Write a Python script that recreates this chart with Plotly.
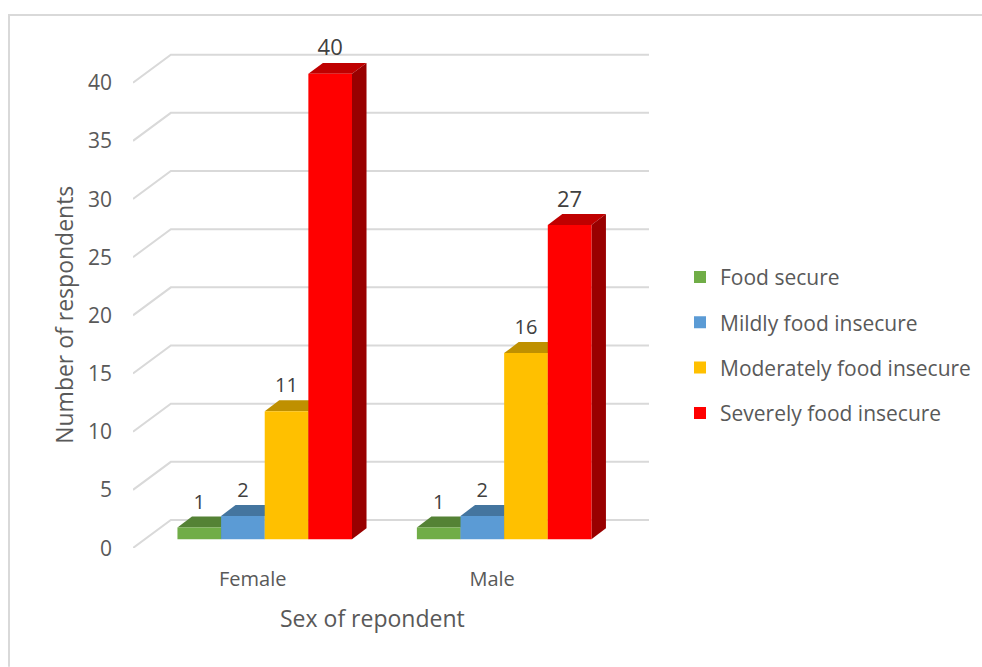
import plotly.graph_objects as go

# Survey counts by sex of respondent
categories = ["Female", "Male"]
series_names = ["Food secure", "Mildly food insecure", "Moderately food insecure", "Severely food insecure"]
food_secure = [1, 1]
mildly_insecure = [2, 2]
moderately_insecure = [11, 16]
severely_insecure = [40, 27]
series_values = [food_secure, mildly_insecure, moderately_insecure, severely_insecure]

value_ticks = [0, 5, 10, 15, 20, 25, 30, 35, 40]

front_colors = ["#70AD47", "#5B9BD5", "#FFC000", "#FF0000"]
top_colors = ["#548235", "#44759F", "#BF9000", "#BF0000"]
side_colors = ["#43682A", "#365E80", "#997300", "#990000"]
label_sizes = [20, 20, 20, 22]

# Canvas and plot-area geometry, in pixels
WIDTH, HEIGHT = 982, 667
LEFT, RIGHT, TOP, BOTTOM = 133, 649, 24, 548.3
PX_PER_CATEGORY = 239.1
PX_PER_VALUE = 11.64

GROUP_WIDTH = 0.729
BAR_WIDTH = GROUP_WIDTH / len(series_values)

# Oblique projection offsets for the fake depth, in axis units
def dx(px):
    return px / PX_PER_CATEGORY

def dy(px):
    return px / PX_PER_VALUE

BAR_DX, BAR_DY = dx(14.5), dy(11)
FLOOR_FRONT_DX, FLOOR_FRONT_DY = dx(-12), dy(-8.8)
WALL_DX, WALL_DY = dx(25.8), dy(19.2)
X_MIN = -0.5 + FLOOR_FRONT_DX
X_MAX = 1.5 + dx(25.1)
Y_MIN = FLOOR_FRONT_DY
Y_MAX = Y_MIN + dy(BOTTOM - TOP)
LABEL_LIFT = dy(24)

fig = go.Figure()

# Wall and floor gridlines: a slanted run from the front edge, then along the back
for tick in value_ticks:
    fig.add_trace(go.Scatter(
        x=[X_MIN, -0.5 + WALL_DX, X_MAX],
        y=[tick + FLOOR_FRONT_DY, tick + WALL_DY, tick + WALL_DY],
        mode="lines",
        line=dict(color="#D9D9D9", width=2),
        hoverinfo="skip",
        showlegend=False,
        cliponaxis=False,
        zorder=-2,
    ))

# Top and side faces of each bar, projected from its value
for s, values in enumerate(series_values):
    for c, value in enumerate(values):
        x0 = c + (s - len(series_values) / 2) * BAR_WIDTH
        x1 = x0 + BAR_WIDTH
        fig.add_trace(go.Scatter(
            x=[x0, x0 + BAR_DX, x1 + BAR_DX, x1, x0],
            y=[value, value + BAR_DY, value + BAR_DY, value, value],
            mode="lines", fill="toself", fillcolor=top_colors[s],
            line=dict(width=0), hoverinfo="skip", showlegend=False,
            cliponaxis=False, zorder=-1,
        ))
        fig.add_trace(go.Scatter(
            x=[x1, x1 + BAR_DX, x1 + BAR_DX, x1, x1],
            y=[0, BAR_DY, value + BAR_DY, value, 0],
            mode="lines", fill="toself", fillcolor=side_colors[s],
            line=dict(width=0), hoverinfo="skip", showlegend=False,
            cliponaxis=False, zorder=-1,
        ))

# Front faces
for s, values in enumerate(series_values):
    fig.add_trace(go.Bar(
        x=list(range(len(categories))),
        y=values,
        name=series_names[s],
        marker=dict(color=front_colors[s], line=dict(width=0)),
        legendgroup=series_names[s],
        zorder=1,
    ))

# Value labels above each bar's top face
for s, values in enumerate(series_values):
    fig.add_trace(go.Scatter(
        x=[c + (s + 0.5 - len(series_values) / 2) * BAR_WIDTH for c in range(len(categories))],
        y=[v + LABEL_LIFT for v in values],
        mode="text",
        text=[str(v) for v in values],
        textposition="middle center",
        textfont=dict(family="Open Sans", size=label_sizes[s], color="#404040"),
        hoverinfo="skip",
        showlegend=False,
        cliponaxis=False,
        zorder=2,
    ))

def paper_x(px):
    return (px - LEFT) / (RIGHT - LEFT)

def paper_y(px):
    return (BOTTOM - px) / (BOTTOM - TOP)

fig.update_layout(
    width=WIDTH,
    height=HEIGHT,
    autosize=False,
    margin=dict(l=LEFT, r=WIDTH - RIGHT, t=TOP, b=HEIGHT - BOTTOM, pad=0, autoexpand=False),
    paper_bgcolor="white",
    plot_bgcolor="white",
    barmode="group",
    bargap=1 - GROUP_WIDTH,
    bargroupgap=0,
    font=dict(family="Open Sans", color="#595959", size=18),
    xaxis=dict(
        range=[X_MIN, X_MAX],
        tickmode="array",
        tickvals=list(range(len(categories))),
        ticktext=categories,
        showgrid=False, zeroline=False, showline=False, ticks="",
        tickfont=dict(size=20, color="#595959"),
        ticklabelshift=-12,
        ticklabelstandoff=17,
    ),
    yaxis=dict(
        range=[Y_MIN, Y_MAX],
        tickmode="array",
        tickvals=value_ticks,
        showgrid=False, zeroline=False, showline=False, ticks="",
        tickfont=dict(size=21, color="#595959"),
        ticklabelshift=9,
        ticklabelstandoff=20,
    ),
    legend=dict(
        x=paper_x(680),
        y=paper_y(257),
        xanchor="left",
        yanchor="top",
        tracegroupgap=15,
        traceorder="grouped",
        itemwidth=30,
        font=dict(size=21, color="#595959"),
        bgcolor="rgba(0,0,0,0)",
    ),
    annotations=[
        dict(text="Number of respondents", xref="paper", yref="paper",
             x=paper_x(64), y=paper_y(315), textangle=-90, showarrow=False,
             font=dict(size=23, color="#595959"), xanchor="center", yanchor="middle"),
        dict(text="Sex of repondent", xref="paper", yref="paper",
             x=paper_x(372), y=paper_y(618), showarrow=False,
             font=dict(size=23, color="#595959"), xanchor="center", yanchor="middle"),
    ],
    shapes=[
        dict(type="path", xref="paper", yref="paper",
             path=f"M {paper_x(9)} {paper_y(667)} L {paper_x(9)} {paper_y(15)} L {paper_x(982)} {paper_y(15)}",
             line=dict(color="#D9D9D9", width=2), layer="below"),
    ],
)

fig.write_html("out.html")
